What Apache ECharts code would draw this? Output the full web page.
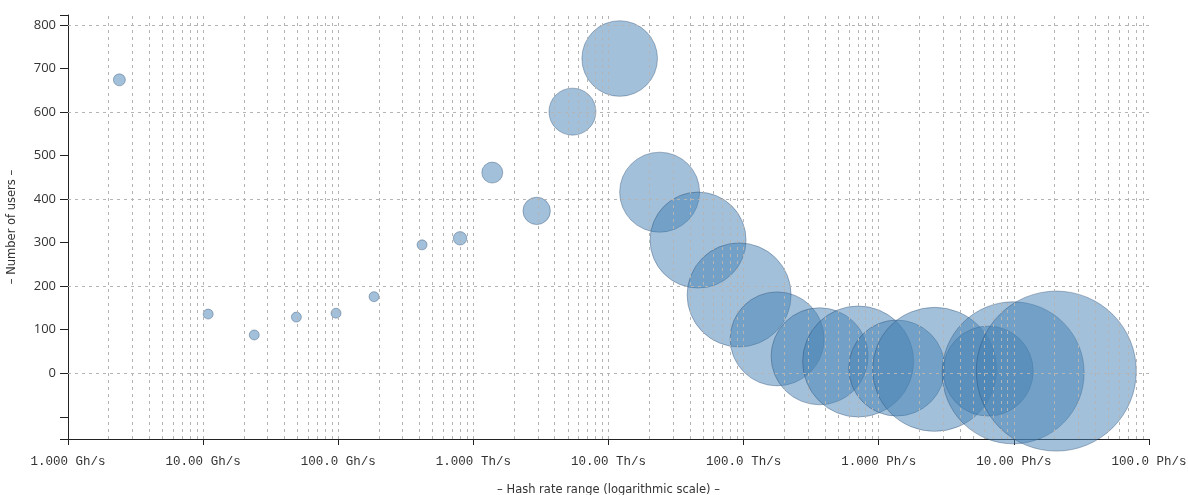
<!DOCTYPE html>
<html>
<head>
<meta charset="utf-8">
<script src="https://cdn.jsdelivr.net/npm/echarts@6/dist/echarts.min.js"></script>
<style>
    html, body { margin: 0; padding: 0; background: #fff; }
    #bubbleChart { width: 1188px; height: 495px; }
</style>
</head>
<body>
<div id="bubbleChart"></div>
<script>
    // hash rate (H/s) at the centre of each bubble
    var hashRates = [2.40e9, 1.09e10, 2.39e10, 4.90e10, 9.63e10, 1.84e11, 4.17e11, 7.97e11,
        1.38e12, 2.94e12, 5.41e12, 1.21e13, 2.39e13, 4.60e13, 9.26e13, 1.77e14,
        3.65e14, 7.04e14, 1.36e15, 2.59e15, 6.46e15, 9.88e15, 2.06e16];
    // number of users
    var users = [674, 136, 88, 129, 138, 176, 295, 310,
        461, 373, 601, 723, 416, 306, 180, 79,
        39, 27, 12, 9, 5, 1, 5];
    // bubble weight (area)
    var bubbleArea = [36, 25, 25, 25, 25, 25, 25, 45,
        110, 188, 552, 1429, 1600, 2304, 2704, 2209,
        2352, 3080, 2304, 3844, 2025, 5041, 6400];
    var userTicks = [0, 100, 200, 300, 400, 500, 600, 700, 800];
    var userGrid = [0, 200, 400, 600, 800];
    var units = ['Gh/s', 'Th/s', 'Ph/s'];

    // dashed log grid: 2..9 of each decade plus the decade itself
    var hashGrid = [];
    for (var e = 9; e < 17; e++) {
        for (var k = 1; k <= 9; k++) {
            if (e === 9 && k === 1) continue;
            hashGrid.push(k * Math.pow(10, e));
        }
    }

    function hashLabel(v) {
        var exp = Math.round(Math.log10(v));
        var idx = Math.min(units.length - 1, Math.floor((exp - 9) / 3));
        var mant = v / Math.pow(10, 9 + idx * 3);
        return mant.toPrecision(4) + ' ' + units[idx];
    }

    var gridLineStyle = { type: [3, 4], color: '#b4b4b4', width: 1 };
    var axisColor = '#222';

    var bubbleChart = echarts.init(document.getElementById('bubbleChart'));
    bubbleChart.setOption({
        animation: false,
        grid: {
            left: 68,
            right: 39,
            top: 15,
            bottom: 56,
            outerBoundsMode: 'none'
        },
        xAxis: {
            type: 'log',
            logBase: 10,
            min: 1e9,
            max: 1e17,
            splitNumber: 8,
            name: '– Hash rate range (logarithmic scale) –',
            nameLocation: 'middle',
            nameGap: 45,
            nameTextStyle: { fontFamily: 'DejaVu Sans', fontSize: 11.5, color: '#333' },
            axisLine: { onZero: false, lineStyle: { color: axisColor, width: 1 } },
            axisTick: { length: 6, lineStyle: { color: axisColor } },
            axisLabel: {
                margin: 16,
                fontFamily: 'Liberation Mono',
                fontSize: 12.5,
                color: '#333',
                formatter: hashLabel
            },
            splitLine: { show: false },
            minorTick: { show: false }
        },
        yAxis: {
            type: 'value',
            min: -151,
            max: 823,
            minInterval: 100,
            maxInterval: 100,
            name: '– Number of users –',
            nameLocation: 'middle',
            nameGap: 50,
            nameTextStyle: { fontFamily: 'DejaVu Sans', fontSize: 11.5, color: '#333' },
            axisLine: { show: true, onZero: false, lineStyle: { color: axisColor, width: 1 } },
            axisTick: { show: true, length: 8, lineStyle: { color: axisColor } },
            axisLabel: {
                margin: 12,
                fontFamily: 'Open Sans',
                fontSize: 13,
                color: '#333',
                formatter: function (v) {
                    return userTicks.indexOf(Math.round(v * 1000) / 1000) >= 0 ? String(v) : '';
                }
            },
            splitLine: { show: false }
        },
        series: [
            {
                // grid lines only
                type: 'scatter',
                z: 1,
                silent: true,
                data: [],
                markLine: {
                    silent: true,
                    animation: false,
                    symbol: 'none',
                    label: { show: false },
                    lineStyle: gridLineStyle,
                    emphasis: { disabled: true },
                    data: hashGrid.map(function (v) { return { xAxis: v }; })
                        .concat(userGrid.map(function (v) { return { yAxis: v }; }))
                }
            },
            {
                name: 'users',
                type: 'scatter',
                z: 2,
                data: hashRates.map(function (h, i) {
                    return [h, users[i], bubbleArea[i]];
                }),
                symbolSize: function (val) {
                    return 2 * Math.sqrt(val[2]);
                },
                itemStyle: {
                    color: 'rgba(70, 130, 180, 0.5)',
                    borderColor: 'rgba(30, 60, 100, 0.35)',
                    borderWidth: 1,
                    opacity: 1
                },
                emphasis: { disabled: true }
            }
        ]
    });
</script>
</body>
</html>
